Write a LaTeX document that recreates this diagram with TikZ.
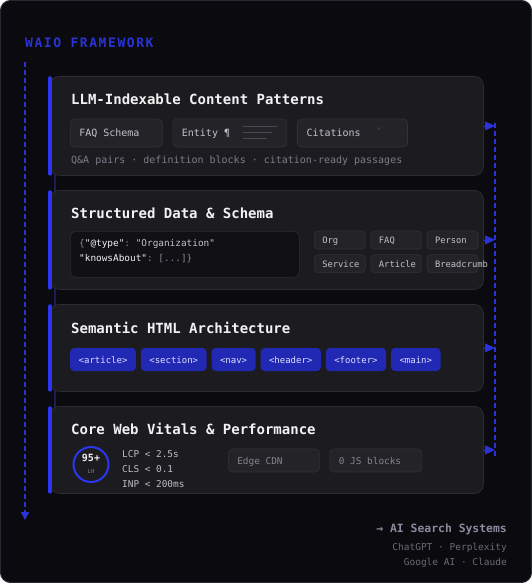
\documentclass[tikz,border=0pt]{standalone}
\usepackage{fontspec}
\setmonofont{DejaVu Sans Mono}
\renewcommand{\familydefault}{\ttdefault}
\usetikzlibrary{positioning,arrows.meta}
\definecolor{bgc}{HTML}{0B0A0E}
\definecolor{framec}{HTML}{262833}
\definecolor{cardbg}{HTML}{1C1B1F}
\definecolor{cardline}{HTML}{2C2B30}
\definecolor{chipbg}{HTML}{242328}
\definecolor{chipline}{HTML}{333237}
\definecolor{chiptxt}{HTML}{C2C2CA}
\definecolor{dimtxt}{HTML}{86858F}
\definecolor{codebg}{HTML}{111014}
\definecolor{codeline}{HTML}{2E2D32}
\definecolor{accent}{HTML}{2B36F0}
\definecolor{flowc}{HTML}{2A33D6}
\definecolor{linkc}{HTML}{1B1E55}
\definecolor{titlec}{HTML}{F2F2F2}
\definecolor{subc}{HTML}{7E7D8A}
\definecolor{htmlbg}{HTML}{2128B4}
\definecolor{htmltxt}{HTML}{DDE0FF}
\definecolor{metricc}{HTML}{BDBDC5}
\definecolor{iconc}{HTML}{4A4A52}
\definecolor{aic}{HTML}{8B8A9E}
\definecolor{aisub}{HTML}{6C6B74}

\begin{document}
\begin{tikzpicture}[x=1pt, y=-1pt, inner sep=0pt,
    card/.style = {draw=cardline, fill=cardbg, rounded corners=9pt, line width=0.8pt, anchor=north west, minimum width=433pt},
    bar/.style = {draw=accent, line width=3.5pt, line cap=round},
    title/.style = {anchor=west, text=titlec, font=\bfseries\fontsize{14}{16}\selectfont},
    note/.style = {anchor=west, text=subc, font=\fontsize{10}{12}\selectfont},
    chip/.style = {draw=chipline, fill=chipbg, rounded corners=4pt, line width=0.6pt, anchor=west, minimum height=28pt, inner xsep=9pt, text height=0.73em, text depth=0pt, text=chiptxt, font=\fontsize{10}{12}\selectfont},
    tag/.style = {chip, minimum height=18pt, inner xsep=8pt, font=\fontsize{8.8}{10}\selectfont},
    html/.style = {fill=htmlbg, rounded corners=4pt, anchor=west, minimum height=23pt, inner xsep=8.5pt, text height=0.73em, text depth=0pt, text=htmltxt, font=\fontsize{9}{11}\selectfont},
    metric/.style = {anchor=west, text=metricc, font=\fontsize{9.4}{11}\selectfont},
    flow/.style = {draw=flowc, line width=1.6pt, dash pattern=on 5pt off 3pt},
    cardarrow/.style = {draw=flowc, fill=flowc, line width=0.8pt, -{Triangle[length=10pt, width=9pt]}}]
    \useasboundingbox (0,0) rectangle (532,583);
    \draw[fill=bgc, draw=framec, line width=1pt, rounded corners=10pt] (0.5,0.5) rectangle (531.5,582.5);
    \node[anchor=west, text=flowc, font=\bfseries\fontsize{13}{15}\selectfont\addfontfeature{LetterSpace=12}] (head) at (25,43) {WAIO FRAMEWORK};
    \coordinate (l0) at (25,62);
    \coordinate (l1) at (25,520);
    \draw[flow, -{Triangle[length=8pt, width=8pt]}] (l0) -- (l1);
    \coordinate (k0) at (55,80);
    \coordinate (k1) at (55,490);
    \draw[linkc, line width=2pt] (k0) -- (k1);

    \node[card, minimum height=99pt] (c1) at (50,76) {};
    \node[card, minimum height=99pt] (c2) at (50,190) {};
    \node[card, minimum height=87pt] (c3) at (50,304) {};
    \node[card, minimum height=87pt] (c4) at (50,406) {};
    \foreach \c in {c1,c2,c3,c4}
        \draw[bar] ([yshift=-2pt]\c.north west) -- ([yshift=2pt]\c.south west);

    \node[title] (t1) at (71,99) {LLM-Indexable Content Patterns};
    \node[chip] (f0) at (70,133) {\makebox[74pt][l]{FAQ Schema}};
    \node[chip] (f1) [right=10pt of f0] {\makebox[96pt][l]{Entity ¶}};
    \node[chip] (f2) [right=10pt of f1] {\makebox[92pt][l]{Citations}};
    \draw[iconc, line width=1.5pt] (243,126.3) -- (276.7,126.3) (243,132.7) -- (271.7,132.7) (243,138.7) -- (266.7,138.7);
    \node[text=iconc, font=\fontsize{9}{10}\selectfont] (q) at (379,131) {"};
    \node[note] (n1) at (71,161) {Q\&A pairs · definition blocks · citation-ready passages};

    \node[title] (t2) at (71,213) {Structured Data \& Schema};
    \node[draw=codeline, fill=codebg, rounded corners=5pt, line width=0.6pt, anchor=north west, minimum width=229pt, minimum height=46pt] (code) at (70,231) {};
    \node[anchor=west, text=dimtxt, font=\fontsize{9.4}{11}\selectfont] (j0) at (79,244) {\{\textcolor{titlec}{"@type"}: \textcolor{chiptxt}{"Organization"}};
    \node[anchor=west, text=dimtxt, font=\fontsize{9.4}{11}\selectfont] (j1) at (79,259) {\textcolor{titlec}{"knowsAbout"}: [...]\}};
    \node[tag] (g0) at (314,240) {\makebox[35pt][l]{Org}};
    \node[tag] (g1) [right=5pt of g0] {\makebox[35pt][l]{FAQ}};
    \node[tag] (g2) [right=4.5pt of g1] {\makebox[35pt][l]{Person}};
    \node[tag] (g3) [below=5pt of g0] {\makebox[35pt][l]{Service}};
    \node[tag] (g4) [right=5pt of g3] {\makebox[35pt][l]{Article}};
    \node[tag] (g5) [right=4.5pt of g4] {\makebox[35pt][l]{Breadcrumb}};

    \node[title] (t3) at (71,328) {Semantic HTML Architecture};
    \node[html] (h0) at (70,359.5) {<article>};
    \node[html] (h1) [right=4.5pt of h0] {<section>};
    \node[html] (h2) [right=4.5pt of h1] {<nav>};
    \node[html] (h3) [right=4.5pt of h2] {<header>};
    \node[html] (h4) [right=4.5pt of h3] {<footer>};
    \node[html] (h5) [right=4.5pt of h4] {<main>};

    \node[title] (t4) at (71,429) {Core Web Vitals \& Performance};
    \node[draw=accent, line width=2pt, circle, minimum size=35pt] (lh) at (91,464.5) {};
    \node[text=titlec, font=\bfseries\fontsize{10}{12}\selectfont] (s0) at (91,458) {95+};
    \node[text=subc, font=\fontsize{5.5}{6}\selectfont] (s1) at (91,471) {LH};
    \node[metric] (m0) at (122,454) {LCP < 2.5s};
    \node[metric] (m1) at (122,469) {CLS < 0.1};
    \node[metric] (m2) at (122,484) {INP < 200ms};
    \node[chip, minimum height=23pt, text=dimtxt, font=\fontsize{9.4}{11}\selectfont] (e0) at (228,460.5) {\makebox[73pt][l]{Edge CDN}};
    \node[chip, minimum height=23pt, text=dimtxt, font=\fontsize{9.4}{11}\selectfont] (e1) [right=10pt of e0] {\makebox[74pt][l]{0 JS blocks}};

    \coordinate (r0) at (495,123);
    \coordinate (r1) at (495,458);
    \draw[flow] (r0) -- (r1);
    \foreach \c in {c1,c2,c3,c4}
        \draw[cardarrow] (\c.east) -- (\c.east -| r0);

    \node[anchor=east, text=aic, font=\bfseries\fontsize{11.4}{13}\selectfont] (ai) at (507,529) {→ AI Search Systems};
    \node[anchor=east, text=aisub, font=\fontsize{9.5}{11}\selectfont] (ai1) at (507,548) {ChatGPT · Perplexity};
    \node[anchor=east, text=aisub, font=\fontsize{9.5}{11}\selectfont] (ai2) at (507,563) {Google AI · Claude};
\end{tikzpicture}
\end{document}
